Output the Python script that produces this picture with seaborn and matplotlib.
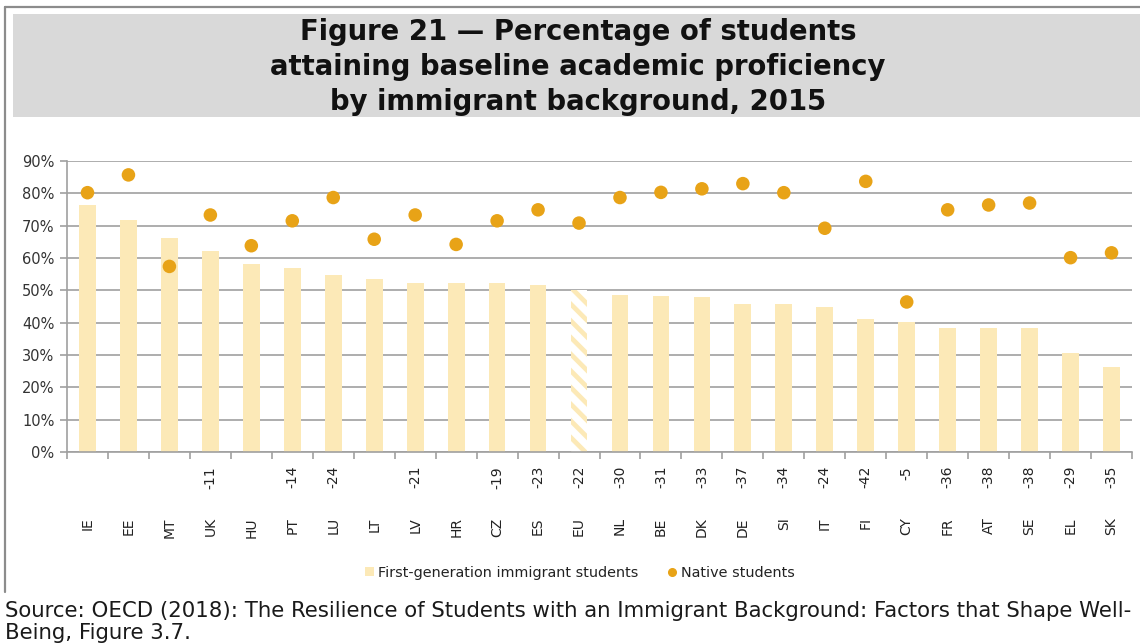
import matplotlib
matplotlib.use("Agg")
import matplotlib.pyplot as plt
import seaborn as sns
import pandas as pd
from matplotlib.patches import Rectangle, Patch
from matplotlib.lines import Line2D

countries = ["IE", "EE", "MT", "UK", "HU", "PT", "LU", "LT", "LV", "HR", "CZ", "ES", "EU",
             "NL", "BE", "DK", "DE", "SI", "IT", "FI", "CY", "FR", "AT", "SE", "EL", "SK"]
differences = ["", "", "", "-11", "", "-14", "-24", "", "-21", "", "-19", "-23", "-22",
               "-30", "-31", "-33", "-37", "-34", "-24", "-42", "-5", "-36", "-38", "-38", "-29", "-35"]
immigrant = [76.5, 71.9, 66.3, 62.1, 58.2, 56.9, 54.8, 53.4, 52.2, 52.2, 52.2, 51.7, 50.2,
             48.7, 48.4, 48.0, 45.7, 45.7, 45.0, 41.1, 40.3, 38.4, 38.4, 38.4, 30.5, 26.3]
native = [80.2, 85.7, 57.4, 73.3, 63.8, 71.5, 78.7, 65.8, 73.3, 64.2, 71.5, 74.9, 70.8,
          78.7, 80.3, 81.4, 83.0, 80.2, 69.2, 83.7, 46.4, 74.9, 76.4, 77.0, 60.1, 61.6]
yticks = [0, 10, 20, 30, 40, 50, 60, 70, 80, 90]

title = "Figure 21 \u2014 Percentage of students\nattaining baseline academic proficiency\nby immigrant background, 2015"
source = ("Source: OECD (2018): The Resilience of Students with an Immigrant Background: Factors that Shape Well-\n"
          "Being, Figure 3.7.")

BAR = "#FCE9B7"
DOT = "#E8A317"
GRID = "#A0A0A0"
TXT = "#333333"

sns.set_theme(style="white")
plt.rcParams["font.family"] = ["DejaVu Sans"]
plt.rcParams["hatch.linewidth"] = 3.4

df = pd.DataFrame({"country": countries, "immigrant": immigrant, "native": native})

fig = plt.figure(figsize=(11.4, 6.44), dpi=100)
W, H = 1140, 644

# frame lines & title band
fig.add_artist(Line2D([5 / W, 1.0], [1 - 7 / H, 1 - 7 / H], color="#8C8C8C", lw=1.6))
fig.add_artist(Line2D([5 / W, 5 / W], [1 - 7 / H, 1 - 592 / H], color="#8C8C8C", lw=1.6))
fig.add_artist(Rectangle((13 / W, 1 - 117 / H), 1.0 - 13 / W, 103 / H, transform=fig.transFigure,
                         facecolor="#D9D9D9", edgecolor="none"))
fig.text(578 / W, 1 - 67 / H, title, ha="center", va="center", fontsize=19.8,
         fontweight="bold", color="#111111", linespacing=1.3)

ax = fig.add_axes([67 / W, 1 - 452 / H, (1132 - 67) / W, (452 - 161) / H])

sns.barplot(data=df, x="country", y="immigrant", color=BAR, saturation=1, width=0.41,
            ax=ax, zorder=2, linewidth=0)
eu = countries.index("EU")
p = ax.patches[eu]
p.set_facecolor("white")
p.set_edgecolor(BAR)
p.set_hatch("\\\\")
p.set_linewidth(0)

sns.scatterplot(data=df, x="country", y="native", color=DOT, s=95, edgecolor="none",
                ax=ax, zorder=3, legend=False)

ax.set_xlim(-0.5, len(countries) - 0.5)
ax.set_ylim(0, 90)
ax.set_yticks(yticks)
ax.set_yticklabels([f"{v}%" for v in yticks], fontsize=10.5, color=TXT)
ax.yaxis.grid(True, color=GRID, lw=1.2, zorder=0)
ax.set_axisbelow(True)
ax.set_xlabel("")
ax.set_ylabel("")
for s in ["top", "right"]:
    ax.spines[s].set_visible(False)
for s in ["left", "bottom"]:
    ax.spines[s].set_color("#A0A0A0")
    ax.spines[s].set_linewidth(1.2)
ax.tick_params(axis="y", which="major", left=True, length=5, color="#A0A0A0", width=1.2, pad=4)

ax.set_xticks(range(len(countries)))
ax.set_xticklabels(differences, rotation=90, fontsize=10, color="#222222", va="top", ha="center")
ax.tick_params(axis="x", which="major", bottom=True, length=0, pad=10)
ax.set_xticks([i - 0.5 for i in range(len(countries) + 1)], minor=True)
ax.tick_params(axis="x", which="minor", bottom=True, length=5, color="#A0A0A0", width=1.2)

sec = ax.secondary_xaxis("bottom")
sec.set_xticks(range(len(countries)))
sec.set_xticklabels(countries, rotation=90, fontsize=10, color="#222222", va="top", ha="center")
sec.tick_params(axis="x", length=0, pad=47)
sec.spines["bottom"].set_visible(False)

handles = [Patch(facecolor=BAR, edgecolor="none"),
           Line2D([], [], marker="o", linestyle="none", color=DOT, markersize=5.5)]
fig.legend(handles, ["First-generation immigrant students", "Native students"],
           loc="center", bbox_to_anchor=(580 / W, 1 - 573 / H), ncol=2, frameon=False,
           fontsize=10.4, handlelength=0.6, handleheight=0.6, handletextpad=0.3,
           columnspacing=2.0, labelcolor="#222222")

fig.text(5 / W, 1 - 622 / H, source, ha="left", va="center", fontsize=15.35,
         color="#1A1A1A", linespacing=1.08)

fig.savefig("out.png", dpi=100)
